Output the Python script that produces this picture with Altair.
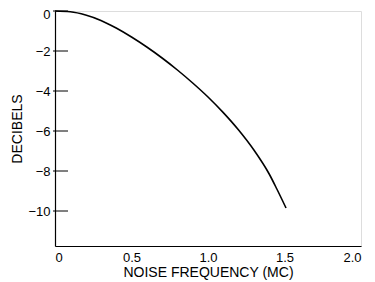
import altair as alt
import pandas as pd

freq = [0.0, 0.1, 0.2, 0.3, 0.4, 0.5, 0.6, 0.7, 0.8, 0.9, 1.0, 1.1, 1.2, 1.3, 1.4, 1.45, 1.51]
db = [0.0, -0.04, -0.2, -0.47, -0.85, -1.3, -1.8, -2.35, -2.95, -3.6, -4.3, -5.08, -5.95, -6.95, -8.15, -8.9, -9.85]

y_ticks = [0, -2, -4, -6, -8, -10]
x_ticks = [0, 0.5, 1.0, 1.5, 2.0]

df = pd.DataFrame({"f": freq, "db": db})
tick_df = pd.DataFrame({"t": y_ticks})

FONT = "Liberation Sans"

xscale = alt.Scale(domain=[0, 2.0], nice=False, zero=False)
yscale = alt.Scale(domain=[-11.75, 0], nice=False, zero=False)

line = alt.Chart(df).mark_line(color="black", strokeWidth=1.6, interpolate="monotone").encode(
    x=alt.X("f:Q", scale=xscale,
            axis=alt.Axis(title="NOISE FREQUENCY (MC)", values=x_ticks, ticks=False, grid=False,
                          labelExpr="datum.value == 0 ? '0' : format(datum.value, '.1f')",
                          labelFont=FONT, labelFontSize=13, labelColor="black", labelPadding=5,
                          titleFont=FONT, titleFontSize=14, titleFontWeight="normal", titleColor="black",
                          titlePadding=1, domainColor="black", domainWidth=1.2)),
    y=alt.Y("db:Q", scale=yscale,
            axis=alt.Axis(title="DECIBELS", values=y_ticks, ticks=False, grid=False,
                          labelFont=FONT, labelFontSize=13, labelColor="black", labelPadding=5,
                          labelFlush=True, labelFlushOffset=3,
                          titleFont=FONT, titleFontSize=14, titleFontWeight="normal", titleColor="black",
                          titlePadding=3, domainColor="black", domainWidth=1.2)),
)

ticks = alt.Chart(tick_df).mark_rule(color="black", strokeWidth=1).encode(
    y=alt.Y("t:Q", scale=yscale),
    x=alt.value(-2),
    x2=alt.value(13),
)

chart = alt.layer(line, ticks).properties(
    width=306, height=235,
    autosize=alt.AutoSizeParams(type="none"),
    padding={"left": 47, "top": 3, "right": 6, "bottom": 36},
).configure_view(stroke="black", strokeWidth=1.2).configure(background="white")

chart.save("out.html", embed_options={"renderer": "svg", "actions": False})
